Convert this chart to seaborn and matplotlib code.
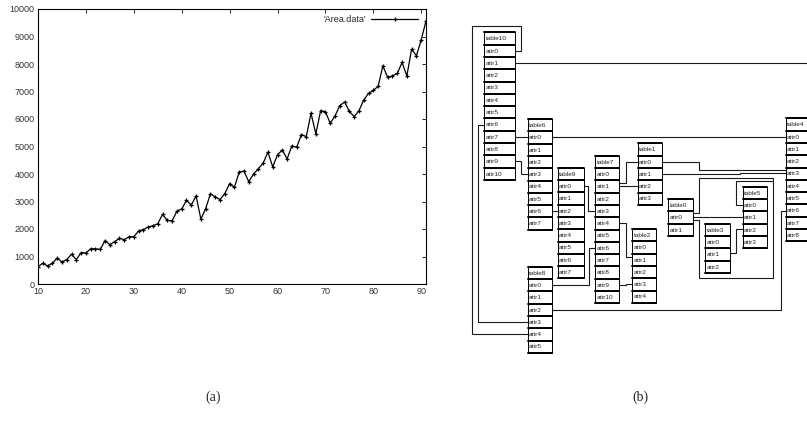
import numpy as np
import pandas as pd
import matplotlib
matplotlib.use('Agg')
import matplotlib.pyplot as plt
from matplotlib.patches import Rectangle
import seaborn as sns

# (a) area data
x_vals = list(range(10, 92))
area = [630, 750, 660, 750, 940, 800, 890, 1080, 890, 1140,
        1130, 1280, 1280, 1260, 1580, 1430, 1540, 1660, 1610, 1720,
        1720, 1930, 1980, 2070, 2120, 2190, 2530, 2310, 2300, 2650,
        2730, 3040, 2870, 3200, 2360, 2740, 3285, 3165, 3070, 3285,
        3650, 3515, 4070, 4105, 3720, 4000, 4190, 4395, 4795, 4260,
        4700, 4870, 4550, 5020, 4975, 5435, 5360, 6205, 5460, 6300,
        6270, 5845, 6110, 6485, 6620, 6280, 6085, 6300, 6690, 6930,
        7040, 7185, 7935, 7510, 7570, 7655, 8055, 7570, 8540, 8300,
        8880, 9565]
x_ticks = list(range(10, 100, 10))
y_ticks = list(range(0, 11000, 1000))

# (b) tables and how many attributes each has
table_names = ['table10', 'table6', 'table9', 'table7', 'table8', 'table1',
               'table2', 'table0', 'table3', 'table5', 'table4']
n_attrs = [11, 8, 8, 11, 6, 4, 5, 2, 3, 4, 9]

# layout of the diagram, in pixels of the figure
table_x = [484, 527.7, 557.7, 595, 527.7, 637.7, 632.3, 668.3, 705.3, 742.7, 785.7]
table_top = [32.3, 119, 167.7, 155.7, 266.7, 143.3, 229, 199, 223.7, 186.7, 118.3]
table_w = [31, 24, 26.3, 24.3, 24, 24.6, 23.7, 24.4, 25, 24.3, 24.3]
ROW = 12.3

sns.set_theme(style='white')
plt.rcParams['font.family'] = ['Liberation Sans', 'DejaVu Sans']

fig = plt.figure(figsize=(8.07, 4.32), dpi=100)

# ---- left: line chart
ax = fig.add_axes([38 / 807, 1 - 284 / 432, 388 / 807, 275 / 432])
df = pd.DataFrame({'x': x_vals, 'area': area})
sns.lineplot(data=df, x='x', y='area', ax=ax, color='black', lw=0.9,
             marker='+', markersize=3.2, markeredgewidth=0.9,
             markeredgecolor='black', label="'Area.data'")
ax.set_xlim(10, 91)
ax.set_ylim(0, 10000)
ax.set_xticks(x_ticks)
ax.set_yticks(y_ticks)
ax.set_xlabel('')
ax.set_ylabel('')
ax.tick_params(direction='in', length=3, width=0.6, labelsize=6.5,
               top=True, right=True, pad=2.5, colors='black')
ax.tick_params(labeltop=False, labelright=False)
for lab in ax.get_xticklabels() + ax.get_yticklabels():
    lab.set_color('#333333')
for s in ax.spines.values():
    s.set_linewidth(0.8)
    s.set_color('black')
leg = ax.legend(loc='upper right', frameon=False, fontsize=6.5,
                markerfirst=False, handlelength=5.2, handletextpad=0.6,
                borderaxespad=0.25, bbox_to_anchor=(0.995, 1.0))

# ---- right: schema diagram
ax2 = fig.add_axes([460 / 807, 0, 347 / 807, 1])
ax2.set_xlim(460, 807)
ax2.set_ylim(432, 0)
ax2.axis('off')

idx = {n: i for i, n in enumerate(table_names)}


def xl(t):
    return table_x[idx[t]]


def xr(t):
    return table_x[idx[t]] + table_w[idx[t]]


def ya(t, a, dy=0):
    return table_top[idx[t]] + ROW * (a + 1.5) + dy


def elbow(p0, p1, xm):
    return [p0, (xm, p0[1]), (xm, p1[1]), p1]


links = [
    [(xr('table10'), ya('table10', 0)), (521, ya('table10', 0)), (521, 26), (472.3, 26),
     (472.3, ya('table8', 4)), (xl('table8'), ya('table8', 4))],
    [(xl('table10'), ya('table10', 6)), (478.3, ya('table10', 6)),
     (478.3, ya('table8', 3)), (xl('table8'), ya('table8', 3))],
    [(xr('table10'), ya('table10', 1)), (830, ya('table10', 1))],
    elbow((xr('table10'), ya('table10', 7)), (xl('table6'), ya('table6', 0)), 521),
    elbow((xr('table6'), ya('table6', 0)), (xl('table4'), ya('table4', 0)), 700),
    elbow((xr('table10'), ya('table10', 9)), (xl('table6'), ya('table6', 3)), 521),
    elbow((xr('table6'), ya('table6', 6)), (xl('table9'), ya('table9', 2)), 554.7),
    elbow((xr('table9'), ya('table9', 0)), (xl('table7'), ya('table7', 3)), 588.3),
    elbow((xr('table8'), ya('table8', 0)), (xl('table7'), ya('table7', 6)), 589),
    elbow((xr('table8'), ya('table8', 2)), (xl('table4'), ya('table4', 6)), 780.7),
    elbow((xr('table7'), ya('table7', 1, -3)), (xl('table1'), ya('table1', 0)), 625.7),
    elbow((xr('table7'), ya('table7', 1)), (xl('table1'), ya('table1', 2)), 628),
    elbow((xr('table7'), ya('table7', 4)), (xl('table2'), ya('table2', 1, -3)), 625.7),
    elbow((xr('table7'), ya('table7', 9)), (xl('table2'), ya('table2', 3)), 626),
    elbow((xr('table1'), ya('table1', 0)), (xl('table4'), ya('table4', 3, -3.5)), 699.3),
    elbow((xr('table1'), ya('table1', 1)), (xl('table4'), ya('table4', 3, -1)), 740),
    [(xr('table0'), ya('table0', 0, -4)), (699.3, ya('table0', 0, -4)), (699.3, 177.7),
     (773.3, 177.7), (773.3, 278.3), (699.3, 278.3), (699.3, ya('table0', 0, 2.5)),
     (xr('table0'), ya('table0', 0, 2.5))],
    elbow((xr('table0'), ya('table0', 0)), (xl('table5'), ya('table5', 1)), 720),
    elbow((xr('table3'), ya('table3', 1, -1)), (xl('table5'), ya('table5', 2, -1)), 736),
    [(xl('table5'), ya('table5', 0, 0)), (736, ya('table5', 0, 0)), (736, 180.5), (773.3, 180.5)],
]

for pts in links:
    px = [p[0] for p in pts]
    py = [p[1] for p in pts]
    ax2.plot(px, py, color='#1a1a1a', lw=0.8, zorder=1, solid_joinstyle='miter')

for i, name in enumerate(table_names):
    x0, top, w = table_x[i], table_top[i], table_w[i]
    labels = [name] + ['attr%d' % k for k in range(n_attrs[i])]
    for r, lab in enumerate(labels):
        y0 = top + r * ROW
        ax2.add_patch(Rectangle((x0, y0), w, ROW, facecolor='white',
                                edgecolor='black', lw=0.7, zorder=2))
        ax2.plot([x0, x0 + w], [y0, y0], color='black', lw=1.4, zorder=3)
        ax2.text(x0 + 1.5, y0 + ROW / 2 + 0.3, lab, fontsize=4.6, va='center',
                 ha='left', color='#222222', zorder=4, clip_on=True)
    yb = top + len(labels) * ROW
    ax2.plot([x0, x0 + w], [yb, yb], color='black', lw=1.4, zorder=3)

# captions
fig.text(213 / 807, 1 - 397 / 432, '(a)', ha='center', va='center',
         fontsize=10, family='Liberation Serif')
fig.text(640 / 807, 1 - 397 / 432, '(b)', ha='center', va='center',
         fontsize=10, family='Liberation Serif')

fig.savefig('out.png', dpi=100)
